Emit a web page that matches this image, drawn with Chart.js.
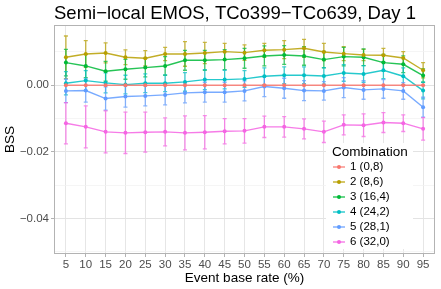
<!DOCTYPE html>
<html>
<head>
<meta charset="utf-8">
<script src="https://cdn.jsdelivr.net/npm/chart.js@4.4.1/dist/chart.umd.min.js"></script>
<style>
    html, body { margin: 0; padding: 0; background: #fff; }
    #wrap { width: 441px; height: 289px; }
</style>
</head>
<body>
<div id="wrap"><canvas id="bssChart" width="441" height="289"></canvas></div>
<script>
// event base rates (%)
const rates = [5, 10, 15, 20, 25, 30, 35, 40, 45, 50, 55, 60, 65, 70, 75, 80, 85, 90, 95];
const combos = ['1 (0,8)', '2 (8,6)', '3 (16,4)', '4 (24,2)', '5 (28,1)', '6 (32,0)'];
const colors = ['#F8766D', '#B79F00', '#00BA38', '#00BFC4', '#619CFF', '#F564E3'];

const bss1 = [0, 0, 0, 0, 0, 0, 0, 0, 0, 0, 0, 0, 0, 0, 0, 0, 0, 0, 0];
const bss2 = [0.0084, 0.0094, 0.0097, 0.0084, 0.0081, 0.0094, 0.0094, 0.0097, 0.0101, 0.0098, 0.0105, 0.0107, 0.0111, 0.0100, 0.0095, 0.0091, 0.0090, 0.0082, 0.0045];
const bss3 = [0.0068, 0.0058, 0.0042, 0.0048, 0.0053, 0.0058, 0.0075, 0.0075, 0.0077, 0.0081, 0.0088, 0.0091, 0.0088, 0.0077, 0.0086, 0.0084, 0.0068, 0.0063, 0.0029];
const bss4 = [0.0006, 0.0014, 0.0007, 0.0002, 0.0006, 0.0006, 0.0010, 0.0017, 0.0017, 0.0019, 0.0027, 0.0030, 0.0030, 0.0028, 0.0037, 0.0034, 0.0045, 0.0027, -0.0016];
const bss5 = [-0.0017, -0.0016, -0.0040, -0.0034, -0.0032, -0.0029, -0.0023, -0.0021, -0.0021, -0.0017, -0.0004, -0.0009, -0.0016, -0.0017, -0.0007, -0.0014, -0.0011, -0.0017, -0.0066];
const bss6 = [-0.0114, -0.0125, -0.0140, -0.0143, -0.0141, -0.0140, -0.0143, -0.0141, -0.0138, -0.0137, -0.0125, -0.0125, -0.0131, -0.0140, -0.0119, -0.0120, -0.0112, -0.0114, -0.0131];

// half widths of the error bars
const err1 = [0, 0, 0, 0, 0, 0, 0, 0, 0, 0, 0, 0, 0, 0, 0, 0, 0, 0, 0];
const err2 = [0.0064, 0.0040, 0.0030, 0.0022, 0.0023, 0.0020, 0.0037, 0.0032, 0.0025, 0.0023, 0.0021, 0.0027, 0.0027, 0.0026, 0.0021, 0.0017, 0.0021, 0.0019, 0.0023];
const err3 = [0.0040, 0.0035, 0.0030, 0.0030, 0.0028, 0.0028, 0.0030, 0.0030, 0.0030, 0.0030, 0.0030, 0.0028, 0.0028, 0.0025, 0.0028, 0.0025, 0.0025, 0.0025, 0.0020];
const err4 = [0.0035, 0.0030, 0.0030, 0.0028, 0.0028, 0.0025, 0.0028, 0.0030, 0.0028, 0.0025, 0.0025, 0.0025, 0.0025, 0.0025, 0.0025, 0.0025, 0.0025, 0.0025, 0.0025];
const err5 = [0.0035, 0.0035, 0.0035, 0.0032, 0.0030, 0.0030, 0.0030, 0.0030, 0.0030, 0.0030, 0.0030, 0.0030, 0.0030, 0.0028, 0.0030, 0.0028, 0.0028, 0.0025, 0.0030];
const err6 = [0.0062, 0.0063, 0.0063, 0.0062, 0.0060, 0.0042, 0.0051, 0.0050, 0.0038, 0.0037, 0.0032, 0.0031, 0.0030, 0.0032, 0.0030, 0.0034, 0.0030, 0.0025, 0.0034];

const yTicks = [-0.05, -0.04, -0.03, -0.02, -0.01, 0, 0.01];
const yTickLabels = ['', '\u22120.04', '', '\u22120.02', '', '0.00', ''];

const series = [bss1, bss2, bss3, bss4, bss5, bss6];
const errors = [err1, err2, err3, err4, err5, err6];

const FONT = "'Liberation Sans', Arial, Helvetica, sans-serif";

function hexA(hex, a) {
    const n = parseInt(hex.slice(1), 16);
    return `rgba(${n >> 16},${(n >> 8) & 255},${n & 255},${a})`;
}

const datasets = series.map((vals, i) => ({
    label: combos[i],
    data: vals.map((v, j) => ({ x: rates[j], y: v })),
    borderColor: hexA(colors[i], 0.85),
    backgroundColor: colors[i],
    borderWidth: 1.4,
    pointRadius: 2,
    pointBorderWidth: 0,
    tension: 0,
    errs: errors[i],
    baseColor: colors[i]
}));

const errorBars = {
    id: 'errorBars',
    beforeDatasetsDraw(chart) {
        const { ctx, scales: { x, y } } = chart;
        ctx.save();
        ctx.lineWidth = 1.3;
        chart.data.datasets.forEach(ds => {
            ctx.strokeStyle = hexA(ds.baseColor, 0.75);
            ds.data.forEach((p, j) => {
                const e = ds.errs[j];
                if (!e) return;
                const px = x.getPixelForValue(p.x);
                const top = y.getPixelForValue(p.y + e);
                const bot = y.getPixelForValue(p.y - e);
                ctx.beginPath();
                ctx.moveTo(px, top); ctx.lineTo(px, bot);
                ctx.moveTo(px - 2, top); ctx.lineTo(px + 2, top);
                ctx.moveTo(px - 2, bot); ctx.lineTo(px + 2, bot);
                ctx.stroke();
            });
        });
        ctx.restore();
    }
};

const decor = {
    id: 'decor',
    afterDraw(chart) {
        const { ctx, chartArea: a } = chart;
        ctx.save();
        // panel border
        ctx.strokeStyle = '#b3b3b3';
        ctx.lineWidth = 1;
        ctx.strokeRect(a.left + 0.5, a.top + 0.5, a.right - a.left - 1, a.bottom - a.top - 1);

        // title
        ctx.fillStyle = '#000';
        ctx.font = `18.5px ${FONT}`;
        ctx.textAlign = 'left';
        ctx.textBaseline = 'alphabetic';
        ctx.fillText('Semi\u2212local EMOS, TCo399\u2212TCo639, Day 1', a.left, 19);

        // legend
        const lx = a.right - 103, ly = a.top + 126;
        ctx.fillStyle = '#fff';
        ctx.fillRect(lx - 6, ly - 8, 87, 106);
        ctx.fillStyle = '#000';
        ctx.font = `13.5px ${FONT}`;
        ctx.textBaseline = 'middle';
        ctx.fillText('Combination', lx, ly + 1);
        ctx.font = `11.5px ${FONT}`;
        chart.data.datasets.forEach((ds, i) => {
            const yy = ly + 16 + i * 15;
            ctx.strokeStyle = ds.borderColor;
            ctx.lineWidth = 1.4;
            ctx.beginPath();
            ctx.moveTo(lx + 1, yy); ctx.lineTo(lx + 13, yy);
            ctx.stroke();
            ctx.fillStyle = ds.baseColor;
            ctx.beginPath();
            ctx.arc(lx + 7, yy, 2, 0, Math.PI * 2);
            ctx.fill();
            ctx.fillStyle = '#000';
            ctx.fillText(ds.label, lx + 18, yy);
        });
        ctx.restore();
    }
};

new Chart(document.getElementById('bssChart'), {
    type: 'line',
    data: { datasets },
    options: {
        responsive: false,
        animation: false,
        devicePixelRatio: 1,
        layout: { padding: { top: 25, right: 6, left: 0, bottom: 0 } },
        plugins: {
            legend: { display: false },
            tooltip: { enabled: false }
        },
        scales: {
            x: {
                type: 'linear',
                min: 2,
                max: 98,
                afterBuildTicks: s => { s.ticks = rates.map(v => ({ value: v })); },
                afterFit: s => { s.height = 35; },
                grid: { color: '#e6e6e6', lineWidth: 1, tickLength: 3, tickColor: '#b3b3b3' },
                border: { display: false },
                ticks: {
                    autoSkip: false, maxRotation: 0, padding: 1,
                    color: '#4d4d4d', font: { family: FONT, size: 11.5 },
                    callback: v => String(v)
                },
                title: {
                    display: true, text: 'Event base rate (%)', color: '#000',
                    font: { family: FONT, size: 13.5 }, padding: { top: 0, bottom: 3 }
                }
            },
            y: {
                min: -0.0507,
                max: 0.0181,
                afterBuildTicks: s => { s.ticks = yTicks.map(v => ({ value: v })); },
                afterFit: s => { s.width = 54; },
                grid: {
                    color: c => yTickLabels[c.index] ? '#e3e3e3' : '#f0f0f0',
                    lineWidth: c => yTickLabels[c.index] ? 1 : 0.7,
                    tickLength: 3,
                    tickColor: c => yTickLabels[c.index] ? '#b3b3b3' : 'rgba(0,0,0,0)'
                },
                border: { display: false },
                ticks: {
                    autoSkip: false, padding: 2,
                    color: '#4d4d4d', font: { family: FONT, size: 11.5 },
                    callback: (v, i) => yTickLabels[i]
                },
                title: {
                    display: true, text: 'BSS', color: '#000',
                    font: { family: FONT, size: 13.5 }, padding: { top: 2, bottom: 0 }
                }
            }
        }
    },
    plugins: [errorBars, decor]
});
</script>
</body>
</html>
